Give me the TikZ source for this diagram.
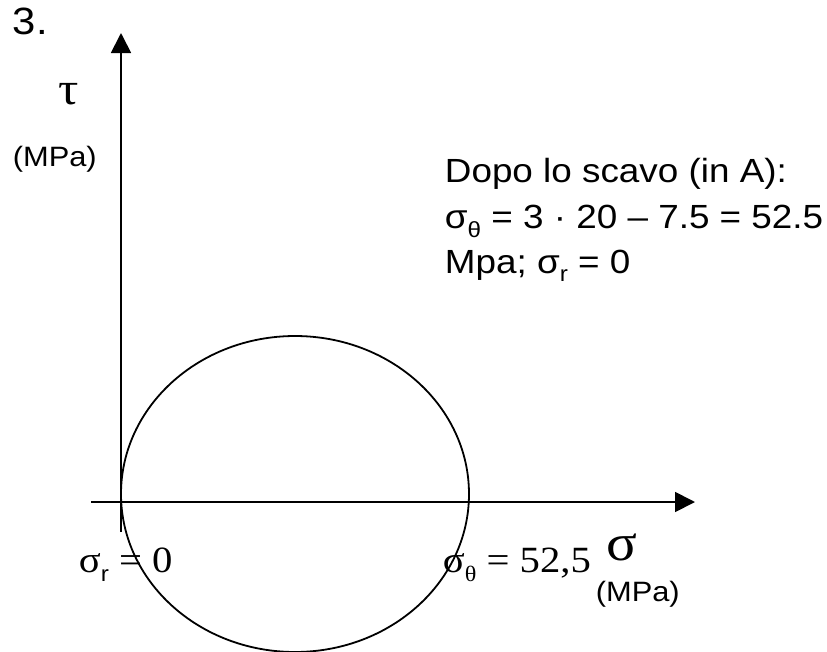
\documentclass[tikz,border=0pt]{standalone}
\usepackage{fontspec}
\setmainfont{Liberation Sans}[FakeStretch=1.1]
\newfontfamily\serifgr{Liberation Serif}[FakeStretch=1.1]
\usetikzlibrary{arrows.meta}
\begin{document}
\begin{tikzpicture}[x=1pt,y=-1pt,line width=1.8pt,
  axis/.style={-{Triangle[length=20pt,width=20pt]}},
  lbl/.style={inner sep=0pt,anchor=base west}]
\useasboundingbox (0,0) rectangle (827,651);
\coordinate (vtail) at (121,532);
\coordinate (vtip) at (121,33);
\coordinate (htail) at (91,502);
\coordinate (htip) at (695,502);
\draw[axis] (vtail) -- (vtip);
\draw[axis] (htail) -- (htip);
\draw (295,494) ellipse [x radius=174, y radius=158];
\node[lbl,font=\fontsize{38}{38}\selectfont] (num) at (12,34) {3.};
\node[lbl,font=\serifgr\fontsize{46}{46}\selectfont] (tau) at (58,104) {τ};
\node[lbl,font=\fontsize{28}{28}\selectfont] (mpa1) at (12,166) {(MPa)};
\node[lbl,font=\fontsize{33.5}{33.5}\selectfont] (t1) at (444,182) {Dopo lo scavo (in A):};
\node[lbl,font=\fontsize{33.5}{33.5}\selectfont] (t2) at (444,228) {σ\raisebox{-9pt}{\fontsize{22}{22}\selectfont θ} = 3 · 20 – 7.5 = 52.5};
\node[lbl,font=\fontsize{33.5}{33.5}\selectfont] (t3) at (444,273) {Mpa; σ\raisebox{-8pt}{\fontsize{22}{22}\selectfont r} = 0};
\node[lbl,font=\serifgr\fontsize{37}{37}\selectfont] (sr) at (78,572) {σ\raisebox{-9pt}{\normalfont\fontsize{22}{22}\selectfont r} = 0};
\node[lbl,font=\serifgr\fontsize{37}{37}\selectfont] (st) at (442,572) {σ\raisebox{-9pt}{\fontsize{22}{22}\selectfont θ} = 52,5};
\node[lbl,font=\serifgr\fontsize{52}{52}\selectfont] (sig) at (606,560) {σ};
\node[lbl,font=\fontsize{28}{28}\selectfont] (mpa2) at (595,601) {(MPa)};
\end{tikzpicture}
\end{document}
